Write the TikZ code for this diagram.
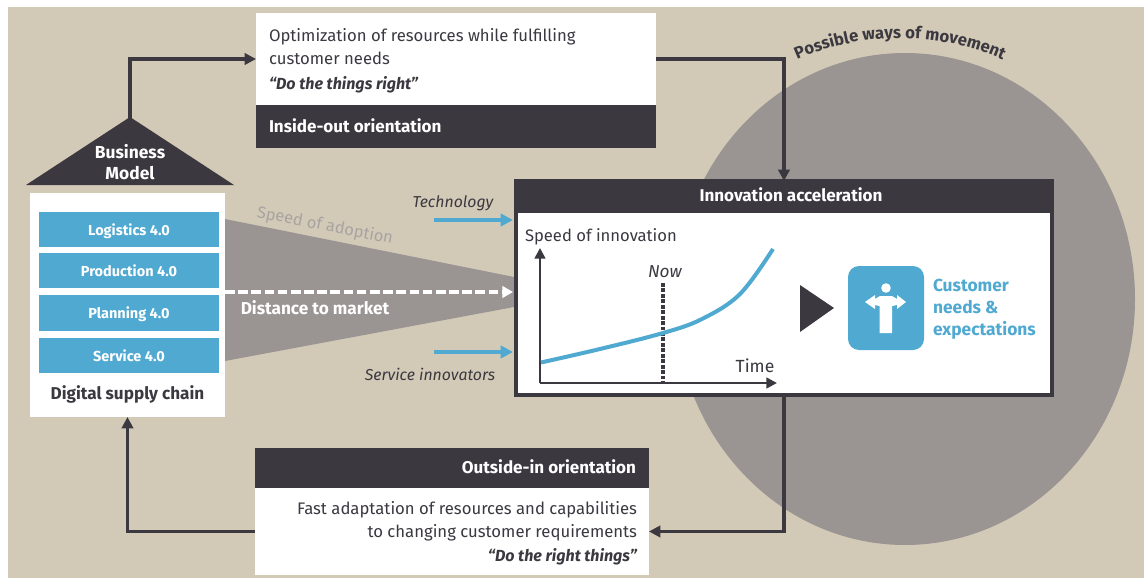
\documentclass[tikz,border=0pt]{standalone}
\usepackage{fontspec}
\setmainfont{Fira Sans}
\usetikzlibrary{arrows.meta,decorations.text}
\definecolor{sand}{HTML}{D2CAB7}
\definecolor{stone}{HTML}{9A9493}
\definecolor{ink}{HTML}{3B3840}
\definecolor{sky}{HTML}{4FA9D0}
\definecolor{fadetext}{HTML}{A8A3A1}
\begin{document}
\begin{tikzpicture}[scale=0.2]
        \tikzstyle{every node}+=[inner sep=0pt, outer sep=0pt, text=ink]
        \tikzstyle{bar}=[fill=sky, minimum width=3.6cm, minimum height=0.71cm, text height=7.5pt, text depth=1.1pt, text=white, font=\fontsize{8.25}{10}\selectfont\bfseries]
        \tikzstyle{whitebox}=[fill=white, minimum width=8cm]
        \tikzstyle{inkbox}=[fill=ink, text=white, font=\fontsize{9.7}{11}\selectfont\bfseries]
        \tikzstyle{body}=[font=\fontsize{9.5}{13}\selectfont]
        \tikzstyle{aside}=[font=\fontsize{9}{12}\selectfont\itshape]
        \tikzstyle{link}=[ink, line width=0.07cm, -{Triangle[length=6.5pt,width=6.5pt]}]
        \tikzstyle{feed}=[sky, line width=0.065cm, shorten >=0.06cm, -{Triangle[length=7pt,width=7pt]}]
        \useasboundingbox (0,0) rectangle (114.4,-57.8);
        \fill [sand] (0.8,-0.7) rectangle (114.4,-57.8);
        \fill [stone] (90.5,-29.9) ellipse (23 and 24.6);
        \path [decorate, decoration={text along path, text align=center, text color=ink, text={|\fontsize{9.5}{12}\selectfont\bfseries|Possible ways of movement}}] (78.56,-6.55) arc (117:63:25.2);
        \fill [stone] (22.5,-21.9) -- (51.4,-27.7) -- (51.4,-30.7) -- (22.5,-36.1) -- cycle;
        \fill [ink] (2.6,-18.5) -- (13,-11.7) -- (23.4,-18.5) -- cycle;
        \coordinate (bmtop) at (13,-12);
        \node (bm) [align=center, text=white, font=\fontsize{9.9}{12}\selectfont\bfseries] at (13,-16.25) {Business\\Model};
        \node (chain) [fill=white, minimum width=3.9cm, minimum height=4.48cm] at (12.75,-30.5) {};
        \node (logistics) [bar] at (12.9,-22.95) {Logistics 4.0};
        \node (production) [bar] at (12.9,-27.05) {Production 4.0};
        \node (planning) [bar] at (12.9,-31.3) {Planning 4.0};
        \node (service) [bar] at (12.9,-35.55) {Service 4.0};
        \node (chainlabel) [font=\fontsize{9.75}{12}\selectfont\bfseries] at (12.75,-39.4) {Digital supply chain};
        \node (inout) [whitebox, minimum height=1.84cm] at (45.6,-5.9) {};
        \node (inouttext) [body, align=left, anchor=west] at (26.9,-6.07) {Optimization of resources while fulfilling\\customer needs\\[1pt]{\fontsize{9.15}{13}\selectfont\bfseries\itshape ``Do the things right''}};
        \node (inoutbar) [inkbox, whitebox, fill=ink, minimum height=0.86cm, text=white] at (45.6,-12.65) {};
        \node (inoutlabel) [inkbox, fill=none, anchor=west] at (26.9,-12.6) {Inside-out orientation};
        \node (outin) [whitebox, minimum width=7.88cm, minimum height=1.74cm] at (45.2,-53.15) {};
        \node (outintext) [body, align=right, anchor=east] at (63.7,-53.35) {Fast adaptation of resources and capabilities\\to changing customer requirements\\[1pt]{\fontsize{9.15}{13}\selectfont\bfseries\itshape ``Do the right things''}};
        \node (outinbar) [inkbox, whitebox, fill=ink, minimum width=7.88cm, minimum height=0.8cm] at (45.2,-46.75) {};
        \node (outinlabel) [inkbox, fill=none, anchor=east] at (63.6,-46.7) {Outside-in orientation};
        \node (innov) [fill=white, draw=ink, line width=0.08cm, minimum width=10.72cm, minimum height=4.28cm] at (78.4,-28.8) {};
        \node (innovbar) [inkbox, minimum width=10.8cm, minimum height=0.68cm] at (78.4,-19.6) {};
        \node (innovlabel) [inkbox, fill=none] at (79.1,-19.5) {Innovation acceleration};
        \node (speedlabel) [font=\fontsize{9.45}{12}\selectfont, anchor=west] at (52.5,-23.7) {Speed of innovation};
        \node (nowlabel) [aside, font=\fontsize{9.8}{12}\selectfont\itshape] at (66.5,-27.2) {Now};
        \node (timelabel) [font=\fontsize{10}{12}\selectfont] at (75.5,-36.6) {Time};
        \coordinate (origin) at (54,-38.3);
        \coordinate (yend) at (54,-24.8);
        \coordinate (xend) at (77.7,-38.3);
        \coordinate (nowtop) at (66.3,-28.3);
        \coordinate (nowfoot) at (66.3,-38.3);
        \draw [ink, line width=0.05cm, -{Triangle[length=6pt,width=6pt]}] (origin) -- (yend);
        \draw [ink, line width=0.05cm, -{Triangle[length=6pt,width=6pt]}] (origin) -- (xend);
        \draw [ink, line width=0.065cm, dash pattern=on 2.2pt off 0.9pt] (nowtop) -- (nowfoot);
        \draw [sky, line width=0.08cm] plot [smooth, tension=0.6] coordinates {(54.1,-36.25) (60,-34.9) (66.3,-33.3) (70.2,-31.9) (74,-29.4) (77.3,-24.9)};
        \fill [ink] (80,-28.5) -- (83.4,-30.8) -- (80,-33.2) -- cycle;
        \node (icon) [fill=sky, rounded corners=0.22cm, minimum width=1.52cm, minimum height=1.68cm] at (88.6,-30.8) {};
        \fill [white] (88.6,-28.8) circle (0.48);
        \fill [white] (87.95,-33.3) -- (87.95,-30.6) -- (87.5,-30.5) -- (87.5,-30.9) -- (86.5,-30.2) -- (87.5,-29.5) -- (87.5,-29.9) -- (88,-29.6) -- (89.2,-29.6) -- (89.7,-29.9) -- (89.7,-29.5) -- (90.6,-30.2) -- (89.7,-30.9) -- (89.7,-30.5) -- (89.2,-30.6) -- (89.2,-33.3) -- cycle;
        \node (needs) [align=left, anchor=west, text=sky, font=\fontsize{9.9}{12.4}\selectfont\bfseries] at (93.3,-30.95) {Customer\\needs \&\\expectations};
        \node (adoption) [text=fadetext, rotate=-11, font=\fontsize{9.35}{12}\selectfont] at (32.5,-22.6) {Speed of adoption};
        \node (distance) [text=white, font=\fontsize{9.8}{12}\selectfont\bfseries] at (31.5,-30.8) {Distance to market};
        \node (technology) [aside] at (45.3,-20.35) {Technology};
        \node (innovators) [aside] at (43,-37.4) {Service innovators};
        \coordinate (techstart) at (43.4,-22);
        \coordinate (servicestart) at (43.4,-35.2);
        \coordinate (diststart) at (22.5,-29.2);
        \draw [feed] (techstart) -- (techstart -| innov.west);
        \draw [feed] (servicestart) -- (servicestart -| innov.west);
        \draw [white, line width=0.07cm, shorten >=0.06cm, dash pattern=on 5.5pt off 2pt, -{Triangle[length=6pt,width=6.5pt]}] (diststart) -- (diststart -| innov.west);
        \draw [link] (bmtop) |- (inout.west);
        \draw [link] (inout.east) -| (innov.north);
        \draw [link] (innov.south) |- (outin.east);
        \draw [link] (outin.west) -| (chain.south);
        \end{tikzpicture}
\end{document}
